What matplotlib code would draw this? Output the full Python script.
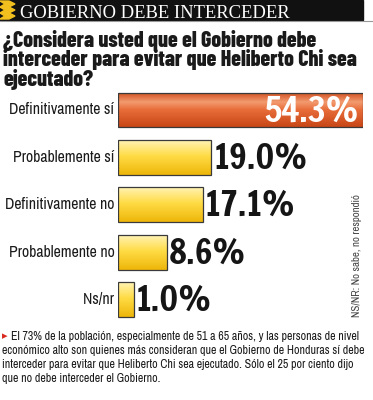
import numpy as np
import matplotlib
matplotlib.use('Agg')
import matplotlib.pyplot as plt
from matplotlib.colors import LinearSegmentedColormap
from matplotlib.patches import Rectangle, Polygon

# datos de la encuesta
categorias = ['Definitivamente sí', 'Probablemente sí', 'Definitivamente no',
              'Probablemente no', 'Ns/nr']
valores = [54.3, 19.0, 17.1, 8.6, 1.0]
etiquetas = ['54.3%', '19.0%', '17.1%', '8.6%', '1.0%']

titulo = 'GOBIERNO DEBE INTERCEDER'
pregunta = ['¿Considera usted que el Gobierno debe',
            'interceder para evitar que Heliberto Chi sea',
            'ejecutado?']
nota_lado = 'NS/NR: No sabe, no respondió'
nota = ['El 73% de la población, especialmente de 51 a 65 años, y las personas de nivel',
        'económico alto son quienes más consideran que el Gobierno de Honduras sí debe',
        'interceder para evitar que Heliberto Chi sea ejecutado. Sólo el 25 por ciento dijo',
        'que no debe interceder el Gobierno.']

NARROW = ['Archivo Narrow', 'Roboto Condensed', 'DejaVu Sans']
HEAVY = ['Barlow Condensed', 'Roboto Condensed', 'DejaVu Sans']
NUM = ['Francois One', 'Anton', 'DejaVu Sans']
SERIF = ['Liberation Serif', 'DejaVu Serif']

W, H = 373, 400
fig = plt.figure(figsize=(W / 100, H / 100), dpi=100)

# capa de fondo en pixeles
bg = fig.add_axes([0, 0, 1, 1])
bg.set_xlim(0, W)
bg.set_ylim(H, 0)
bg.axis('off')

# franja negra del titulo
bg.add_patch(Rectangle((0, 0), 363, 20, color='#111111', zorder=1))
bg.plot([0, W], [21, 21], color='#999999', lw=0.8)
for k in range(3):
    y0 = 1 + k * 6
    bg.add_patch(Polygon([(0, y0), (9, y0), (15, y0 + 3), (9, y0 + 6), (0, y0 + 6), (5, y0 + 3)],
                         closed=True, color='#f2c01e', zorder=2))
bg.text(20, 17.5, titulo, family=SERIF, color='white', fontsize=13.4,
        va='baseline', ha='left', zorder=3)

# pregunta
for i, linea in enumerate(pregunta):
    bg.text(3, 47 + i * 19.5, linea, family=HEAVY, weight='heavy', fontsize=15.7,
            color='#1a1a1a', va='baseline', ha='left')

# nota lateral
bg.text(357, 256, nota_lado, family=NARROW, fontsize=7.8, color='#444444',
        rotation=90, ha='center', va='center')

# nota al pie
bg.text(1.5, 339.5, '▸', family=['DejaVu Sans'], fontsize=8, color='#d8281e',
        va='baseline', ha='left')
for i, linea in enumerate(nota):
    x0 = 11 if i == 0 else 2
    bg.text(x0, 340 + i * 14, linea, family=NARROW, fontsize=8.55, color='#1a1a1a',
            va='baseline', ha='left')

# barras
base = -2.7
ax = fig.add_axes([118 / W, 1 - 323.3 / H, (363 - 118) / W, 237 / H])
pos = np.arange(len(valores))
naranja = LinearSegmentedColormap.from_list('nar', [(0, '#cf4c1c'), (0.28, '#f39b70'),
                                                    (0.5, '#e86e3a'), (1, '#c94617')])
amarillo = LinearSegmentedColormap.from_list('ama', [(0, '#fff3b4'), (0.45, '#ffdc45'),
                                                     (1, '#eeb60a')])
grad = np.linspace(0, 1, 64).reshape(-1, 1)
alto = 0.73
barras = ax.barh(pos, np.array(valores) - base, left=base, height=alto,
                 facecolor='none', edgecolor='#3a3a3a', linewidth=0.9, zorder=3)
for i, b in enumerate(barras):
    cmap = naranja if i == 0 else amarillo
    im = ax.imshow(grad, cmap=cmap, aspect='auto', zorder=2,
                   extent=[base, valores[i], pos[i] + alto / 2, pos[i] - alto / 2])
    im.set_clip_path(b)

for i, (v, txt) in enumerate(zip(valores, etiquetas)):
    ax.text(base, i, categorias[i] + ' ', transform=ax.transData, family=NARROW,
            fontsize=11.3, color='#1a1a1a', ha='right', va='center')
    if i == 0:
        ax.annotate(txt, (v, i), xytext=(-4, -1), textcoords='offset pixels',
                    family=NUM, fontsize=25, color='white',
                    ha='right', va='center', zorder=4)
    else:
        ax.annotate(txt, (v, i), xytext=(2, -1), textcoords='offset pixels',
                    family=NUM, fontsize=25, color='#151515',
                    ha='left', va='center', zorder=4)

ax.set_xlim(base, 54.3)
ax.set_ylim(len(valores) - 0.5, -0.5)
ax.axis('off')

fig.savefig('out.png', dpi=100)
